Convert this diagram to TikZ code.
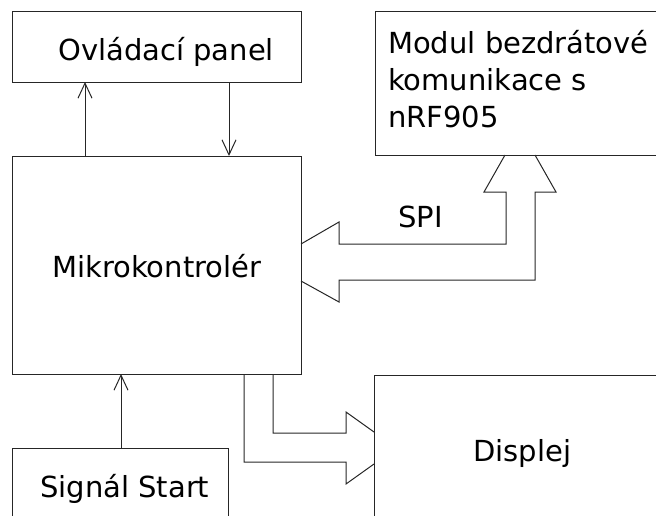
\documentclass[tikz,border=0pt]{standalone}
\usepackage{fontspec}
\setmainfont{DejaVu Sans}
\usetikzlibrary{arrows.meta,positioning,calc}

\begin{document}
\begin{tikzpicture}[
    x=1pt, y=-1pt,
    blok/.style={rectangle, draw=black!85, line width=1pt, inner sep=0pt,
                 outer sep=0pt, anchor=north west},
    popis/.style={anchor=base west, inner sep=0pt, align=left,
                  font=\fontsize{29}{37}\selectfont},
    sipka/.style={-{Straight Barb[length=15pt, width=14pt]}, line width=1pt, draw=black!85},
    sbernice/.style={line width=1pt, draw=black!85, line join=miter}
  ]
    \clip (0,0) rectangle (656,515);

    % Bloky
    \node[blok, minimum width=289pt, minimum height=71pt]  (panel) at (12,11)  {};
    \node[blok, minimum width=289pt, minimum height=218pt] (mcu)   at (12,156) {};
    \node[blok, minimum width=300pt, minimum height=144pt] (modul) at (375,11) {};
    \node[blok, minimum width=300pt, minimum height=160pt] (disp)  at (374,375) {};
    \node[blok, minimum width=216pt, minimum height=100pt] (start) at (12,448) {};

    % Popisy (u viceradkoveho je base na poslednim radku)
    \node[popis] (panel-txt) at (58,60)   {Ovládací panel};
    \node[popis] (mcu-txt)   at (52,277)  {Mikrokontrolér};
    \node[popis] (modul-txt) at (388,127) {Modul bezdrátové\\komunikace s\\nRF905};
    \node[popis] (disp-txt)  at (473,461) {Displej};
    \node[popis] (start-txt) at (40,497)  {Signál Start};
    \node[popis] (spi-txt)   at (398,227) {SPI};

    % Jednoduche sipky
    \draw[sipka] (mcu.north -| 85,0)   -- (panel.south -| 85,0);
    \draw[sipka] (panel.south -| 229,0) -- (mcu.north -| 229,0);
    \draw[sipka] (start.north -| 121,0) -- (mcu.south -| 121,0);

    % SPI sbernice
    \draw[sbernice] (mcu.east |- 0,244) -- (339,222) -- (339,244) -- (506,244)
      -- (506,192) -- (484,192) -- (modul.south -| 505,0);
    \draw[sbernice] (modul.south -| 535,0) -- (556,192) -- (535,192) -- (535,280)
      -- (339,280) -- (339,302) -- (mcu.east |- 0,281);

    % Sbernice k displeji
    \draw[sbernice] (mcu.south -| 273,0) -- (273,433) -- (346,433) -- (346,412)
      -- (disp.west |- 0,432);
    \draw[sbernice] (mcu.south -| 244,0) -- (244,462) -- (346,462) -- (346,484)
      -- (disp.west |- 0,464);
  \end{tikzpicture}
\end{document}
